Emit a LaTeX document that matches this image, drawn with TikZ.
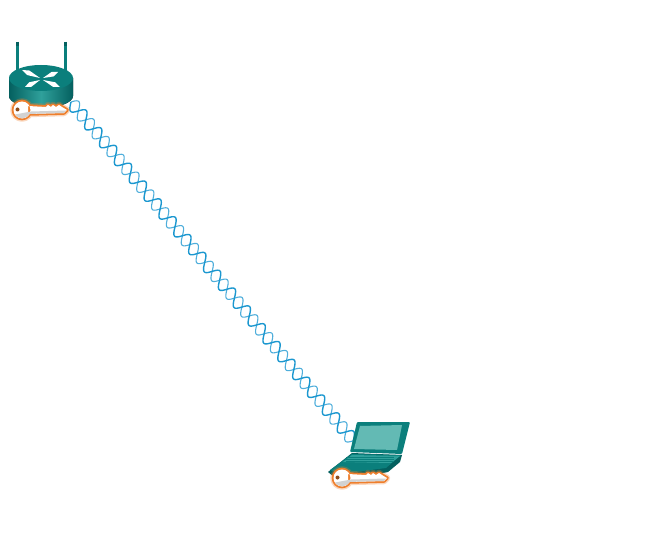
\documentclass[tikz,border=0pt]{standalone}
\usetikzlibrary{calc}
\definecolor{teal1}{HTML}{0B7F7C}
\definecolor{teal2}{HTML}{04605F}
\definecolor{teal3}{HTML}{2FA09B}
\definecolor{screen}{HTML}{63BAB4}
\definecolor{strand}{HTML}{1B97CF}
\definecolor{strandlight}{HTML}{4FAEDB}
\definecolor{glow}{HTML}{EE7F2D}
\tikzset{
	strandback/.style={draw=strandlight, line width=1.1pt},
	strandfront/.style={draw=strand, line width=1.4pt},
	antenna/.style={draw=teal1, line width=3pt},
	accesskey/.pic={
		\def\keyoutline{(0,0) circle [radius=8.5pt] (6,-4) -- (24,-3) -- (26,-5) -- (29,-3) -- (31,-5) -- (34,-3) -- (37,-5) -- (40,-3) -- (45,0) -- (42,3) -- (6,4) -- cycle}
		\draw[glow, line width=6.5pt, opacity=.3, line join=round] \keyoutline;
		\draw[glow, line width=3.6pt, line join=round] \keyoutline;
		\fill[white] \keyoutline;
		\fill[gray!35] (-7,4.5) arc [start angle=213, end angle=327, radius=8.5pt] -- (8,3.9) -- (42,3) -- (44,.5) -- (9,1.5) -- cycle;
		\fill[glow!60!black] (-4.5,-.5) circle [radius=2pt];
	}
}
\begin{document}
\begin{tikzpicture}[x=1pt,y=-1pt]
	\useasboundingbox (0,0) rectangle (653,556);
	\coordinate (routerport) at (71,102);
	\coordinate (laptopport) at (353,441);

	% wireless link
	\begin{scope}[shift={(routerport)}, rotate=-50.2]
		\draw[strandback] plot[smooth, samples=800, domain=0:441, variable=\t] ({\t-1*sin(15.51*\t)},{-6.3*sin(15.51*\t)});
		\draw[strandfront] plot[smooth, samples=800, domain=0:441, variable=\t] ({\t+1*sin(15.51*\t)},{6.3*sin(15.51*\t)});
	\end{scope}

	% router
	\draw[antenna] (17,42) -- (17,74);
	\draw[antenna] (65,42) -- (65,74);
	\draw[antenna, teal2] (17,42) -- (17,46);
	\draw[antenna, teal2] (65,42) -- (65,46);
	\fill[left color=teal2, right color=teal2, middle color=teal3] (9,78) -- (9,96) arc [start angle=180, end angle=360, x radius=32pt, y radius=12pt] -- (73,78) -- cycle;
	\fill[teal1] (41,78) ellipse [x radius=32pt, y radius=13pt];
	\foreach \ax/\ay/\bx/\by in {22/70/40/78, 58/72/43/78, 25/87/40/80, 60/87/43/80}
		\fill[white] (\ax,\ay) -- ($(\ax,\ay)!.35!(\bx,\by)!2.5pt!90:(\bx,\by)$) -- (\bx,\by) -- ($(\ax,\ay)!.35!(\bx,\by)!2.5pt!-90:(\bx,\by)$) -- cycle;

	% laptop
	\fill[teal2] (328,472) -- (352,453) -- (402,455) -- (400,462) -- (388,472) -- (340,482) -- cycle;
	\fill[teal1] (330,470) -- (352,454) -- (401,455) -- (386,468) -- (340,474) -- cycle;
	\fill[teal3] (343,462) -- (352,455) -- (400,456) -- (391,463) -- cycle;
	\foreach \row in {457,459,461}
		\draw[teal1, line width=.5pt] (346,\row) -- (394,\row);
	\fill[teal1, rounded corners=1pt] (357,422) -- (410,422) -- (402,454) -- (350,452) -- cycle;
	\fill[screen] (360,426) -- (402,425) -- (397,450) -- (354,449) -- cycle;

	% keys
	\pic (routerkey) at (22,110) {accesskey};
	\pic (laptopkey) at (342,478) {accesskey};
\end{tikzpicture}
\end{document}
